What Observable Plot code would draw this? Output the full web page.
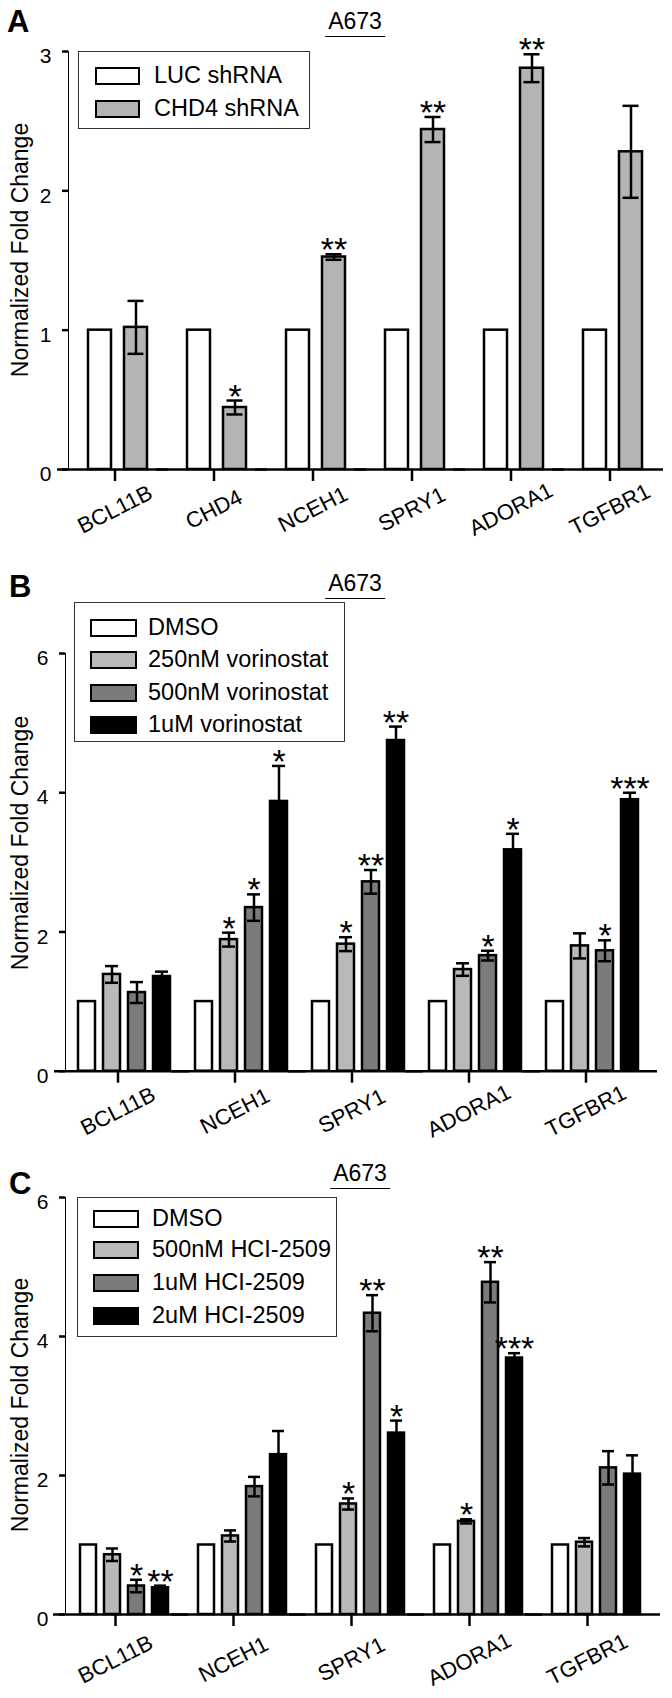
<!DOCTYPE html>
<html><head><meta charset="utf-8">
<script src="https://cdn.jsdelivr.net/npm/d3@7"></script>
<script src="https://cdn.jsdelivr.net/npm/@observablehq/plot@0.6"></script>
<style>
body{margin:0;background:#fff;font-family:"Liberation Sans",Arial,Helvetica,sans-serif;color:#000;overflow:hidden;}
.panel{position:relative;width:672px;}
.panel svg{display:block;}
.letter{position:absolute;font-weight:bold;font-size:31px;line-height:1;}
.title{position:absolute;font-size:23px;line-height:1;border-bottom:1.5px solid #000;padding:0 3px 2.5px 3px;transform:translateX(-50%);white-space:nowrap;}
.ylab{position:absolute;font-size:23px;line-height:1;white-space:nowrap;transform:translate(-50%,-50%) rotate(-90deg);}
.legend{position:absolute;border:1.5px solid #333;box-sizing:border-box;background:#fff;}
.lrow{position:absolute;height:24px;display:flex;align-items:center;font-size:23.5px;line-height:1;white-space:nowrap;}
.sw{height:18px;border:2.5px solid #000;box-sizing:border-box;flex:none;}
svg g[aria-label^="y-axis"] line, svg g[aria-label^="y-axis"] path,
svg g[aria-label^="fx-axis"] line, svg g[aria-label^="fx-axis"] path{stroke-width:2.5px;stroke:#000;}
svg g[aria-label="y-axis tick label"]{transform:translate(-16.5px,5.5px);}
</style></head><body><div id="root"></div>
<script>
// ---------- Panel A data ----------
const genesA = ["BCL11B", "CHD4", "NCEH1", "SPRY1", "ADORA1", "TGFBR1"];
const seriesA = ["LUC shRNA", "CHD4 shRNA"];
const lucA = [1, 1, 1, 1, 1, 1];
const chd4A = [1.02, 0.445, 1.525, 2.44, 2.88, 2.28];
const chd4ErrA = [0.19, 0.05, 0.02, 0.09, 0.10, 0.33];
const chd4SigA = ["", "*", "**", "**", "**", ""];
const colorsA = ["#ffffff", "#b4b4b4"];

// ---------- Panel B data ----------
const genesB = ["BCL11B", "NCEH1", "SPRY1", "ADORA1", "TGFBR1"];
const seriesB = ["DMSO", "250nM vorinostat", "500nM vorinostat", "1uM vorinostat"];
const dmsoB = [1, 1, 1, 1, 1];
const vor250 = [1.39, 1.89, 1.825, 1.46, 1.80];
const vor250Err = [0.12, 0.10, 0.10, 0.09, 0.18];
const vor250Sig = ["", "*", "*", "", ""];
const vor500 = [1.13, 2.35, 2.72, 1.66, 1.73];
const vor500Err = [0.15, 0.19, 0.17, 0.07, 0.15];
const vor500Sig = ["", "*", "**", "*", "*"];
const vor1u = [1.36, 3.875, 4.75, 3.18, 3.90];
const vor1uErr = [0.07, 0.51, 0.20, 0.23, 0.10];
const vor1uSig = ["", "*", "**", "*", "***"];
const colorsB = ["#ffffff", "#b9b9b9", "#7b7b7b", "#000000"];

// ---------- Panel C data ----------
const genesC = ["BCL11B", "NCEH1", "SPRY1", "ADORA1", "TGFBR1"];
const seriesC = ["DMSO", "500nM HCI-2509", "1uM HCI-2509", "2uM HCI-2509"];
const dmsoC = [1, 1, 1, 1, 1];
const hci500 = [0.86, 1.13, 1.59, 1.34, 1.04];
const hci500Err = [0.09, 0.08, 0.08, 0.03, 0.06];
const hci500Sig = ["", "", "*", "*", ""];
const hci1u = [0.41, 1.84, 4.335, 4.78, 2.11];
const hci1uErr = [0.09, 0.14, 0.26, 0.29, 0.24];
const hci1uSig = ["*", "", "**", "**", ""];
const hci2u = [0.385, 2.30, 2.61, 3.69, 2.02];
const hci2uErr = [0.03, 0.34, 0.18, 0.07, 0.27];
const hci2uSig = ["**", "", "*", "***", ""];
const colorsC = ["#ffffff", "#b9b9b9", "#7b7b7b", "#000000"];

const ylabel = "Normalized Fold Change";
const cellLine = "A673";

function rowsOf(genes, series, values, errs, sigs) {
  return genes.flatMap((g, i) => series.map((s, j) => ({
    gene: g, series: s, value: values[j][i],
    err: errs[j] ? errs[j][i] : null, sig: sigs[j] ? sigs[j][i] : ""
  })));
}

const panels = [
  {
    letter: "A", genes: genesA, series: seriesA, colors: colorsA,
    rows: rowsOf(genesA, seriesA, [lucA, chd4A], [null, chd4ErrA], [null, chd4SigA]),
    height: 550, m: {top: 51, bottom: 81, left: 66, right: 8}, yMax: 3,
    ext: [-11, -1], pad: [0.351, 0.522], capInset: 3.5, lab: {pad: 28, dx: -3},
    letterPos: [7, 6], titlePos: [355, 10], ylabPos: [20, 250],
    legend: {left: 78, top: 51, w: 232, h: 78, swLeft: 95, swW: 45, gap: 14, rows: [76, 109]}
  },
  {
    letter: "B", genes: genesB, series: seriesB, colors: colorsB,
    rows: rowsOf(genesB, seriesB, [dmsoB, vor250, vor500, vor1u], [null, vor250Err, vor500Err, vor1uErr], [null, vor250Sig, vor500Sig, vor1uSig]),
    height: 600, m: {top: 103, bottom: 79.3, left: 63, right: 21}, yMax: 6,
    ext: [-11, -7], pad: [0.328, 0.488], capInset: 2, lab: {pad: 28, dx: -6},
    letterPos: [9, 21], titlePos: [355, 22], ylabPos: [20, 293],
    legend: {left: 74, top: 51.7, w: 271, h: 140, swLeft: 90, swW: 47, gap: 11, rows: [77.5, 110, 142.5, 174.5]}
  },
  {
    letter: "C", genes: genesC, series: seriesC, colors: colorsC,
    rows: rowsOf(genesC, seriesC, [dmsoC, hci500, hci1u, hci2u], [null, hci500Err, hci1uErr, hci2uErr], [null, hci500Sig, hci1uSig, hci2uSig]),
    height: 548, m: {top: 47, bottom: 84, left: 65, right: 17}, yMax: 6,
    ext: [-12, -5], pad: [0.335, 0.544], capInset: 2, lab: {pad: 33, dx: -9},
    letterPos: [9, 18], titlePos: [360, 12], ylabPos: [20, 255],
    legend: {left: 77, top: 46.7, w: 260, h: 140, swLeft: 93, swW: 46, gap: 13, rows: [69, 99.5, 133, 166]}
  }
];

const hi = d => d.err == null ? NaN : d.value + d.err;
const lo = d => d.err == null ? NaN : d.value - d.err;
const topOf = d => d.err == null ? d.value : d.value + d.err;

const root = document.getElementById("root");
for (const p of panels) {
  const div = document.createElement("div");
  div.className = "panel";
  div.style.height = p.height + "px";
  const chart = Plot.plot({
    width: 672, height: p.height,
    marginTop: p.m.top, marginBottom: p.m.bottom, marginLeft: p.m.left, marginRight: p.m.right,
    facet: {data: p.rows, x: "gene"},
    fx: {domain: p.genes, paddingInner: 0, paddingOuter: 0, label: null},
    x: {domain: p.series, paddingInner: p.pad[0], paddingOuter: p.pad[1], axis: null},
    y: {domain: [0, p.yMax], ticks: 3, tickSize: 6, tickPadding: 11, line: true, label: null},
    color: {domain: p.series, range: p.colors},
    style: {fontFamily: '"Liberation Sans", Arial, sans-serif', fontSize: "21px", color: "#000", background: "transparent", overflow: "visible"},
    marks: [
      Plot.barY(p.rows, {x: "series", y: "value", fill: "series", stroke: "#000", strokeWidth: 2.5}),
      Plot.ruleX(p.rows, {x: "series", y1: lo, y2: hi, stroke: "#000", strokeWidth: 2.5}),
      Plot.tickY(p.rows, {x: "series", y: hi, stroke: "#000", strokeWidth: 2.5, insetLeft: p.capInset, insetRight: p.capInset}),
      Plot.tickY(p.rows, {x: "series", y: lo, stroke: "#000", strokeWidth: 2.5, insetLeft: p.capInset, insetRight: p.capInset}),
      Plot.ruleY([0], {stroke: "#000", strokeWidth: 2.5, insetLeft: p.ext[0], insetRight: p.ext[1]}),
      Plot.text(p.rows, {x: "series", y: topOf, text: "sig", lineAnchor: "bottom", dy: 7, fontSize: 34}),
      Plot.axisFx({anchor: "bottom", label: null, tickSize: 12, tickPadding: p.lab.pad, tickRotate: -27,
        textAnchor: "middle", lineAnchor: "middle", dx: p.lab.dx, fontSize: 22, stroke: "#000", strokeWidth: 2.5})
    ]
  });
  div.appendChild(chart);

  const letter = document.createElement("div");
  letter.className = "letter";
  letter.textContent = p.letter;
  letter.style.left = p.letterPos[0] + "px";
  letter.style.top = p.letterPos[1] + "px";
  div.appendChild(letter);

  const title = document.createElement("div");
  title.className = "title";
  title.textContent = cellLine;
  title.style.left = p.titlePos[0] + "px";
  title.style.top = p.titlePos[1] + "px";
  div.appendChild(title);

  const yl = document.createElement("div");
  yl.className = "ylab";
  yl.textContent = ylabel;
  yl.style.left = p.ylabPos[0] + "px";
  yl.style.top = p.ylabPos[1] + "px";
  div.appendChild(yl);

  const L = p.legend;
  const box = document.createElement("div");
  box.className = "legend";
  box.style.left = L.left + "px";
  box.style.top = L.top + "px";
  box.style.width = L.w + "px";
  box.style.height = L.h + "px";
  div.appendChild(box);
  p.series.forEach((s, j) => {
    const row = document.createElement("div");
    row.className = "lrow";
    row.style.left = L.swLeft + "px";
    row.style.top = (L.rows[j] - 12) + "px";
    row.style.gap = L.gap + "px";
    const sw = document.createElement("span");
    sw.className = "sw";
    sw.style.width = L.swW + "px";
    sw.style.background = p.colors[j];
    const tx = document.createElement("span");
    tx.textContent = s;
    row.appendChild(sw);
    row.appendChild(tx);
    div.appendChild(row);
  });
  root.appendChild(div);
}
</script></body></html>
